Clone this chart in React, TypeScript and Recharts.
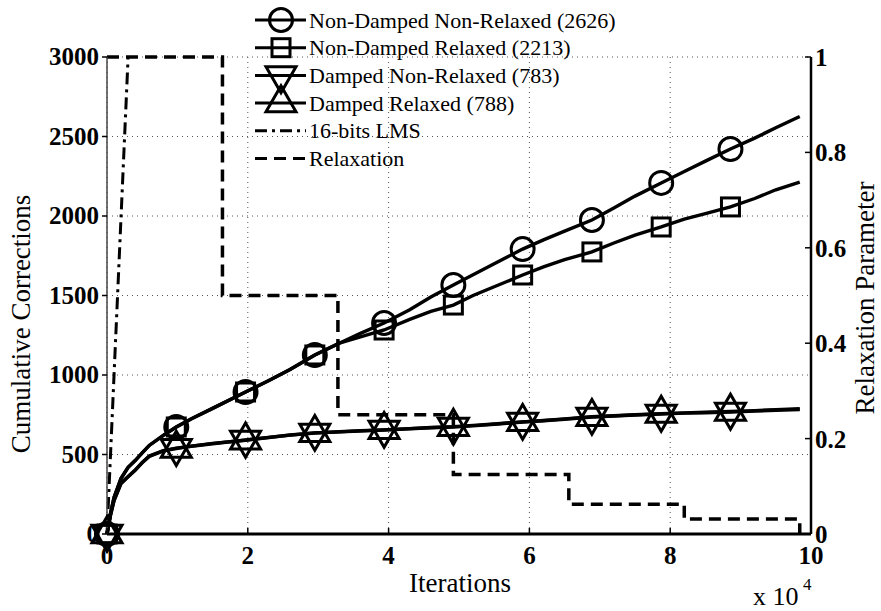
import React from 'react';
import { LineChart, Line, XAxis, YAxis, CartesianGrid } from 'recharts';

// iterations in units of 1e4
const iters = [0, 0.05, 0.1, 0.2, 0.3, 0.4, 0.5, 0.6, 0.8, 0.984, 1.2, 1.5, 1.968, 2.3, 2.6, 2.952, 3.3, 3.6, 3.936, 4.3, 4.6, 4.92, 5.2, 5.5, 5.904, 6.2, 6.5, 6.888, 7.2, 7.5, 7.872, 8.2, 8.5, 8.856, 9.2, 9.5, 9.84];
const markerIters = [0, 0.984, 1.968, 2.952, 3.936, 4.92, 5.904, 6.888, 7.872, 8.856];

const nonDampedNonRelaxed = [0, 130, 230, 350, 420, 462, 510, 557, 620, 673, 725, 790, 893, 965, 1035, 1126, 1200, 1262, 1327, 1410, 1490, 1566, 1630, 1700, 1792, 1850, 1905, 1975, 2050, 2125, 2208, 2280, 2345, 2421, 2490, 2555, 2626];
const nonDampedRelaxed = [0, 130, 230, 350, 420, 462, 510, 557, 620, 673, 725, 790, 893, 965, 1035, 1126, 1200, 1240, 1283, 1350, 1400, 1440, 1500, 1555, 1629, 1680, 1725, 1774, 1830, 1880, 1931, 1980, 2015, 2057, 2110, 2165, 2213];
const dampedNonRelaxed = [0, 120, 210, 320, 360, 400, 450, 490, 525, 540, 552, 568, 591, 608, 622, 635, 642, 648, 654, 662, 668, 673, 680, 690, 704, 712, 722, 736, 742, 748, 755, 760, 763, 767, 773, 778, 783];
const dampedRelaxed = [0, 118, 212, 318, 362, 402, 448, 488, 523, 538, 553, 570, 590, 607, 623, 636, 643, 650, 655, 663, 670, 675, 683, 692, 705, 714, 724, 737, 744, 750, 757, 762, 766, 770, 776, 782, 788];

const lmsIters = [0, 0.3];
const lmsValues = [0, 3000];

const relaxIters = [0, 1.64, 3.28, 4.92, 6.56, 8.2, 9.84];
const relaxValues = [1, 0.5, 0.25, 0.125, 0.0625, 0.03125, 0];

const xTicks = [0, 2, 4, 6, 8, 10];
const xMinorTicks = [0.5, 1, 1.5, 2.5, 3, 3.5, 4.5, 5, 5.5, 6.5, 7, 7.5, 8.5, 9, 9.5];
const leftTicks = [0, 500, 1000, 1500, 2000, 2500, 3000];
const leftMinorTicks = [100, 200, 300, 400, 600, 700, 800, 900, 1100, 1200, 1300, 1400, 1600, 1700, 1800, 1900, 2100, 2200, 2300, 2400, 2600, 2700, 2800, 2900];
const rightTicks = [0, 0.2, 0.4, 0.6, 0.8, 1];

const legendLabels = [
  'Non-Damped Non-Relaxed (2626)',
  'Non-Damped Relaxed (2213)',
  'Damped Non-Relaxed (783)',
  'Damped Relaxed (788)',
  '16-bits LMS',
  'Relaxation',
];

const FONT = "'Liberation Serif', 'Times New Roman', serif";
const txt = { fontFamily: FONT };

const data = iters.map((x, i) => ({
  x,
  m: markerIters.includes(x),
  ndnr: nonDampedNonRelaxed[i],
  ndr: nonDampedRelaxed[i],
  dnr: dampedNonRelaxed[i],
  dr: dampedRelaxed[i],
}));
const lmsData = lmsIters.map((x, i) => ({ x, v: lmsValues[i] }));
const relaxData = relaxIters.map((x, i) => ({ x, v: relaxValues[i] }));

type Shape = 'circle' | 'square' | 'down' | 'up';

const Marker = ({ shape, cx, cy }: { shape: Shape; cx: number; cy: number }) => {
  const st = { fill: 'none', stroke: '#000', strokeWidth: 3 };
  if (shape === 'circle') return <circle cx={cx} cy={cy} r={11.5} {...st} />;
  if (shape === 'square') return <rect x={cx - 9} y={cy - 9} width={18} height={18} {...st} />;
  if (shape === 'down')
    return <polygon points={`${cx - 15},${cy - 8.7} ${cx + 15},${cy - 8.7} ${cx},${cy + 17.3}`} {...st} />;
  return <polygon points={`${cx - 15},${cy + 8.7} ${cx + 15},${cy + 8.7} ${cx},${cy - 17.3}`} {...st} />;
};

const makeDot = (shape: Shape) => (props: any) => {
  const { cx, cy, payload, index } = props;
  if (!payload || !payload.m || cx == null || cy == null) return <g key={`d-${shape}-${index}`} />;
  return (
    <g key={`d-${shape}-${index}`}>
      <Marker shape={shape} cx={cx} cy={cy} />
    </g>
  );
};

const XTick = (props: any) => {
  const { x, y, payload } = props;
  return (
    <g>
      <line x1={x} x2={x} y1={y} y2={y - 6} stroke="#000" strokeWidth={1.5} />
      <text x={x} y={y + 30} textAnchor="middle" style={txt} fontWeight="bold" fontSize={25} fill="#000">
        {payload.value}
      </text>
    </g>
  );
};

const LeftTick = (props: any) => {
  const { x, y, payload } = props;
  return (
    <text x={x} y={y + 8} textAnchor="end" style={txt} fontWeight="bold" fontSize={25} fill="#000">
      {payload.value}
    </text>
  );
};

const RightTick = (props: any) => {
  const { x, y, payload } = props;
  const v = payload.value;
  const label = v === 0 ? '0' : v === 1 ? '1' : v.toFixed(1);
  return (
    <g>
      <line x1={x} x2={x - 6} y1={y} y2={y} stroke="#000" strokeWidth={1.5} />
      <text x={x + 4} y={y + 9} textAnchor="start" style={txt} fontWeight="bold" fontSize={25} fill="#000">
        {label}
      </text>
    </g>
  );
};

const XMinorTick = (props: any) => {
  const { x, y } = props;
  return <line x1={x} x2={x} y1={y} y2={y - 3} stroke="#555" strokeWidth={1} />;
};

const LeftMinorTick = (props: any) => {
  const { x, y } = props;
  return <line x1={x} x2={x + 3} y1={y} y2={y} stroke="#555" strokeWidth={1} />;
};

const legendShapes: (Shape | null)[] = ['circle', 'square', 'down', 'up', null, null];
const legendDash = [undefined, undefined, undefined, undefined, '12 5 3 5', '12 7'];

const Overlay = () => (
  <svg width={881} height={611} style={{ position: 'absolute', left: 0, top: 0, pointerEvents: 'none' }}>
    {legendLabels.map((label, i) => {
      const y = 20 + i * 27.7;
      const shape = legendShapes[i];
      return (
        <g key={label}>
          <line x1={255} x2={306} y1={y} y2={y} stroke="#000" strokeWidth={3} strokeDasharray={legendDash[i]} />
          {shape && <Marker shape={shape} cx={281} cy={y} />}
          <text x={309} y={y + 7.5} style={txt} fontSize={22} fill="#000">
            {label}
          </text>
        </g>
      );
    })}
    <text transform="translate(30, 324) rotate(-90)" textAnchor="middle" style={txt} fontSize={27} fill="#000">
      Cumulative Corrections
    </text>
    <text transform="translate(874, 298) rotate(-90)" textAnchor="middle" style={txt} fontSize={27} fill="#000">
      Relaxation Parameter
    </text>
    <text x={460} y={592} textAnchor="middle" style={txt} fontSize={27} fill="#000">
      Iterations
    </text>
    <text x={753} y={605} style={txt} fontSize={26} fill="#000">
      x 10
    </text>
    <text x={803} y={590} style={txt} fontSize={17} fill="#000">
      4
    </text>
  </svg>
);

export default function App() {
  return (
    <div style={{ position: 'absolute', left: 0, top: 0, width: 881, height: 611, background: '#fff' }}>
      <LineChart width={881} height={611} data={data} margin={{ top: 57, right: 0, bottom: 0, left: 0 }}>
        <CartesianGrid yAxisId="left" stroke="#555" strokeDasharray="1 4" strokeWidth={1} />
        <XAxis
          dataKey="x"
          type="number"
          domain={[0, 10]}
          ticks={xTicks}
          height={77}
          tickLine={false}
          tickSize={0}
          tickMargin={0}
          axisLine={{ stroke: '#000', strokeWidth: 3 }}
          tick={<XTick />}
          interval={0}
        />
        <XAxis
          xAxisId="minor"
          dataKey="x"
          type="number"
          domain={[0, 10]}
          ticks={xMinorTicks}
          height={0}
          tickLine={false}
          tickSize={0}
          tickMargin={0}
          axisLine={false}
          tick={<XMinorTick />}
          interval={0}
        />
        <YAxis
          yAxisId="left"
          domain={[0, 3000]}
          ticks={leftTicks}
          width={107}
          interval={0}
          tickSize={5}
          tickMargin={3}
          tickLine={{ stroke: '#000', strokeWidth: 1.5 }}
          axisLine={{ stroke: '#444', strokeWidth: 1.5 }}
          tick={<LeftTick />}
        />
        <YAxis
          yAxisId="leftMinor"
          domain={[0, 3000]}
          ticks={leftMinorTicks}
          width={0}
          interval={0}
          tickSize={0}
          tickMargin={0}
          tickLine={false}
          axisLine={false}
          tick={<LeftMinorTick />}
        />
        <YAxis
          yAxisId="right"
          orientation="right"
          domain={[0, 1]}
          ticks={rightTicks}
          width={70}
          interval={0}
          tickSize={0}
          tickMargin={0}
          tickLine={false}
          axisLine={{ stroke: '#000', strokeWidth: 2.5 }}
          tick={<RightTick />}
        />
        <Line yAxisId="right" data={relaxData} dataKey="v" type="stepAfter" stroke="#000" strokeWidth={3.5} strokeDasharray="12 7" dot={false} activeDot={false} isAnimationActive={false} />
        <Line yAxisId="left" data={lmsData} dataKey="v" type="linear" stroke="#000" strokeWidth={3} strokeDasharray="12 5 3 5" dot={false} activeDot={false} isAnimationActive={false} />
        <Line yAxisId="left" dataKey="ndnr" type="linear" stroke="#000" strokeWidth={3.4} dot={makeDot('circle')} activeDot={false} isAnimationActive={false} />
        <Line yAxisId="left" dataKey="ndr" type="linear" stroke="#000" strokeWidth={3.4} dot={makeDot('square')} activeDot={false} isAnimationActive={false} />
        <Line yAxisId="left" dataKey="dnr" type="linear" stroke="#000" strokeWidth={3.4} dot={makeDot('down')} activeDot={false} isAnimationActive={false} />
        <Line yAxisId="left" dataKey="dr" type="linear" stroke="#000" strokeWidth={3.4} dot={makeDot('up')} activeDot={false} isAnimationActive={false} />
      </LineChart>
      <Overlay />
    </div>
  );
}
